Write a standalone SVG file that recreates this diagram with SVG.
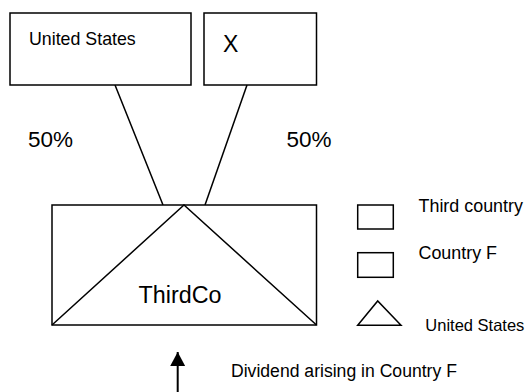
<svg xmlns="http://www.w3.org/2000/svg" width="532" height="392" viewBox="0 0 532 392">
<defs>
<style>
.box{fill:#fff;stroke:#000;stroke-width:1.5}
.ln{fill:none;stroke:#000;stroke-width:1.5}
.t{font-family:"Liberation Sans",Arial,sans-serif;fill:#000}
</style>
<marker id="ah" viewBox="0 0 14 15" refX="14" refY="7.5" markerWidth="7" markerHeight="7.5" orient="auto" markerUnits="strokeWidth">
<path d="M0,0 L14,7.5 L0,15 Z" fill="#000"/>
</marker>
</defs>
<rect width="532" height="392" fill="#fff"/>
<g id="connectors">
<line class="ln" x1="115" y1="85" x2="163" y2="205"/>
<line class="ln" x1="247" y1="85" x2="205" y2="205"/>
<line x1="177.7" y1="392" x2="177.7" y2="352" stroke="#000" stroke-width="2" marker-end="url(#ah)"/>
</g>
<g id="united-states">
<rect class="box" x="10" y="13" width="181" height="72"/>
<text class="t" x="29" y="45" font-size="17.8">United States</text>
</g>
<g id="x">
<rect class="box" x="204" y="13" width="112.5" height="72"/>
<text class="t" x="223" y="51.5" font-size="23">X</text>
</g>
<g id="label-50-left"><text class="t" x="28" y="146.5" font-size="22.5">50%</text></g>
<g id="label-50-right"><text class="t" x="286.5" y="146.5" font-size="22.5">50%</text></g>
<g id="thirdco">
<rect class="box" x="52" y="205" width="264.5" height="120"/>
<polyline class="ln" points="52,325 184,205 316.5,325"/>
<text class="t" x="180" y="303" font-size="23.3" text-anchor="middle">ThirdCo</text>
</g>
<g id="legend-third-country">
<rect class="box" x="357.7" y="205" width="35.6" height="24"/>
<text class="t" x="418.5" y="211.5" font-size="17.9">Third country</text>
</g>
<g id="legend-country-f">
<rect class="box" x="357.7" y="252.7" width="35.6" height="24.6"/>
<text class="t" x="418.5" y="259" font-size="17.9">Country F</text>
</g>
<g id="legend-united-states">
<polygon class="box" points="357.7,325.3 377.7,301 401,325.3"/>
<text class="t" x="425.3" y="330.7" font-size="16.5">United States</text>
</g>
<g id="dividend-label">
<text class="t" x="231" y="377" font-size="17.6">Dividend arising in Country F</text>
</g>
</svg>
